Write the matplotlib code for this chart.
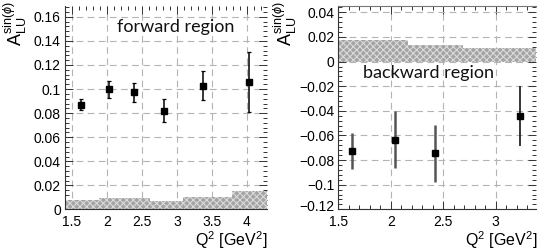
import matplotlib
matplotlib.use("Agg")
import matplotlib.pyplot as plt
from matplotlib.ticker import MultipleLocator, AutoMinorLocator, FuncFormatter
from matplotlib.transforms import ScaledTranslation

#
# Data
#

# Forward region
fwd_q2 = [1.63, 2.03, 2.38, 2.81, 3.37, 4.03]
fwd_asym = [0.0869, 0.0997, 0.0972, 0.0822, 0.1028, 0.1058]
fwd_err = [0.0045, 0.0072, 0.0080, 0.0098, 0.0120, 0.0250]
fwd_sys_edges = [1.4, 1.89, 2.61, 3.09, 3.79, 4.28]
fwd_sys = [0.0078, 0.0092, 0.0072, 0.0100, 0.0153]

# Backward region
bwd_q2 = [1.626, 2.04, 2.42, 3.23]
bwd_asym = [-0.0727, -0.0635, -0.0746, -0.0440]
bwd_err = [0.0145, 0.0230, 0.0233, 0.0245]
bwd_sys_edges = [1.5, 2.16, 2.69, 3.39]
bwd_sys = [0.0175, 0.0135, 0.0107]

#
# Style
#
plt.rcParams["font.family"] = ["Liberation Sans", "DejaVu Sans"]
plt.rcParams["mathtext.fontset"] = "custom"
plt.rcParams["mathtext.rm"] = "Liberation Sans"
plt.rcParams["mathtext.it"] = "Liberation Sans:italic"
plt.rcParams["mathtext.sf"] = "Liberation Sans"
plt.rcParams["hatch.linewidth"] = 0.8

GRID_COLOR = "#b4b4b4"
AXIS_COLOR = "#333333"
SYS_FACE = "#a4a4a4"
SYS_HATCH = "#dadada"
YLABEL = r"$\mathrm{A}_{\mathrm{LU}}^{\mathrm{sin}(\phi)}$"
XLABEL = r"Q$^{2}$ [GeV$^{2}$]"


def minus_fmt(v, p):
    s = "%g" % round(v, 4)
    return s.replace("-", "\u2212")


def style_axes(ax, xmajor, ymajor):
    ax.xaxis.set_major_locator(MultipleLocator(xmajor))
    ax.xaxis.set_minor_locator(AutoMinorLocator(5))
    ax.yaxis.set_major_locator(MultipleLocator(ymajor))
    ax.yaxis.set_minor_locator(AutoMinorLocator(5))
    ax.xaxis.set_major_formatter(FuncFormatter(minus_fmt))
    ax.yaxis.set_major_formatter(FuncFormatter(minus_fmt))
    ax.tick_params(which="both", direction="in", top=True, right=True,
                   color=AXIS_COLOR, width=0.7, labelsize=10, labelcolor="black")
    ax.tick_params(which="major", length=6)
    ax.tick_params(which="minor", length=3)
    ax.tick_params(axis="x", pad=4)
    ax.tick_params(axis="y", pad=3)
    ax.grid(True, which="major", color=GRID_COLOR, linestyle=(0, (6, 4)), linewidth=0.8)
    ax.set_axisbelow(True)
    for side in ("left", "bottom"):
        ax.spines[side].set_color(AXIS_COLOR)
        ax.spines[side].set_linewidth(0.8)
    ax.spines["right"].set_visible(False)


fig = plt.figure(figsize=(5.45, 2.52), dpi=100)

# Left panel: forward region
ax1 = fig.add_axes([0.1193, 0.1687, 0.3697, 0.8075])
ax1.stairs(fwd_sys, fwd_sys_edges, baseline=0, fill=True,
           facecolor=SYS_FACE, edgecolor=SYS_HATCH, hatch="xxxxx", linewidth=0, zorder=2)
ax1.errorbar(fwd_q2, fwd_asym, yerr=fwd_err, fmt="s", ms=4.5, color="black",
             ecolor="black", elinewidth=1.1, capsize=1.5, capthick=0.9, zorder=3)
ax1.set_xlim(1.4, 4.28)
ax1.set_ylim(0, 0.169)
style_axes(ax1, 0.5, 0.02)
ax1.spines["top"].set_visible(False)
ax1.text(0.551, 0.895, "forward region", transform=ax1.transAxes,
         ha="center", va="center", fontsize=13, family=["Lato", "DejaVu Sans"],
         color="#111111")

# Right panel: backward region
ax2 = fig.add_axes([0.6211, 0.1694, 0.3633, 0.808])
ax2.stairs(bwd_sys, bwd_sys_edges, baseline=0, fill=True,
           facecolor=SYS_FACE, edgecolor=SYS_HATCH, hatch="xxxxx", linewidth=0, zorder=2)
for i in range(len(bwd_q2)):
    last = i == len(bwd_q2) - 1
    ax2.errorbar([bwd_q2[i]], [bwd_asym[i]], yerr=[bwd_err[i]], fmt="s", ms=4.5,
                 color="black", ecolor="black" if last else "#555555",
                 elinewidth=1.1 if last else 1.8, capsize=0, zorder=3)
ax2.set_xlim(1.5, 3.39)
ax2.set_ylim(-0.12, 0.0454)
style_axes(ax2, 0.5, 0.02)
ax2.spines["top"].set_color("#777777")
ax2.spines["top"].set_linewidth(0.8)
ax2.text(0.4565, 0.669, "backward region", transform=ax2.transAxes,
         ha="center", va="center", fontsize=13, family=["Lato", "DejaVu Sans"],
         color="#111111")

# Axis titles
for xl, xr in ((0.0, 0.4899), (0.4954, 0.9853)):
    fig.text(xl + 0.0275, 0.995, YLABEL, rotation=90, ha="center", va="top", fontsize=13)
    fig.text(xr, 0.047, XLABEL, ha="right", va="center", fontsize=11.5)

# Lift the lowest y label of the right panel off the first x label
fig.canvas.draw()
for lbl in ax2.get_yticklabels():
    if lbl.get_text() == "\u22120.12":
        lbl.set_transform(lbl.get_transform() + ScaledTranslation(0, 3 / 72, fig.dpi_scale_trans))

fig.savefig("out.png", dpi=100)
